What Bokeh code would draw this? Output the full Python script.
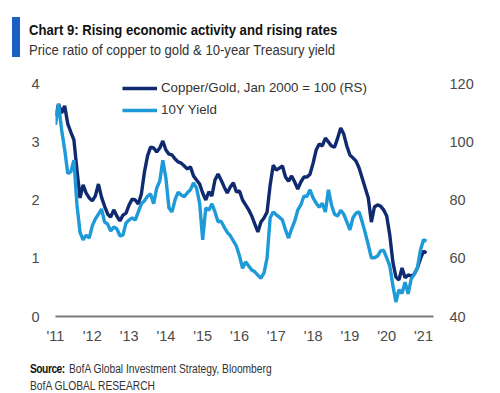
import pandas as pd
from bokeh.plotting import figure
from bokeh.layouts import column
from bokeh.models import (Range1d, LinearAxis, FixedTicker, Div,
                          Legend, LegendItem, ColumnDataSource)
from bokeh.embed import file_html
from bokeh.resources import INLINE

# ---- data (monthly, Jan 2011 .. Feb 2021) ----
START = "2011-01-01"
YIELD_10Y = [3.30, 3.66, 3.21, 2.87, 2.46, 2.49, 2.69, 1.92, 1.45, 1.32,
             1.40, 1.35, 1.56, 1.68, 1.76, 1.85, 1.63, 1.59, 1.47, 1.54,
             1.51, 1.39, 1.40, 1.61, 1.66, 1.70, 1.66, 1.80, 1.94, 1.99,
             2.07, 2.11, 1.94, 2.21, 2.33, 2.69, 2.38, 1.87, 1.80, 2.01,
             2.14, 2.09, 2.06, 2.13, 2.18, 2.30, 2.21, 1.95, 1.32, 1.87,
             1.83, 1.94, 1.80, 1.63, 1.64, 1.54, 1.45, 1.39, 1.30, 1.21,
             1.04, 0.83, 0.94, 0.87, 0.80, 0.77, 0.71, 0.66, 0.75, 1.01,
             1.70, 1.80, 1.75, 1.71, 1.66, 1.49, 1.35, 1.51, 1.64, 1.83,
             1.92, 2.07, 2.07, 2.18, 2.04, 1.95, 1.88, 1.95, 1.80, 2.18,
             1.92, 1.76, 1.73, 1.83, 1.76, 1.63, 1.49, 1.70, 1.78, 1.80,
             1.63, 1.44, 1.23, 1.01, 1.01, 1.04, 1.13, 1.14, 1.01, 0.87,
             0.54, 0.25, 0.46, 0.40, 0.59, 0.39, 0.65, 0.73, 0.83, 1.14,
             1.32, 1.30]
COPPER_GOLD = [109.0, 113.1, 110.0, 112.5, 106.3, 103.5, 100.8, 90.4, 80.8, 85.3,
               82.5, 80.8, 79.8, 81.5, 85.6, 81.1, 78.0, 75.3, 74.2, 76.7,
               74.6, 72.9, 74.9, 75.6, 78.4, 80.4, 80.1, 78.7, 82.2, 89.7,
               95.2, 98.3, 98.0, 96.6, 98.0, 100.4, 97.3, 95.9, 95.6, 94.2,
               93.2, 92.8, 91.8, 90.8, 91.5, 88.4, 87.0, 85.6, 82.5, 80.1,
               82.9, 81.5, 87.0, 89.0, 87.0, 84.6, 82.5, 84.6, 86.0, 82.9,
               83.2, 80.1, 78.4, 76.7, 74.6, 71.8, 69.1, 72.5, 73.9, 76.0,
               85.3, 92.1, 90.4, 91.1, 91.8, 88.0, 86.6, 88.4, 86.3, 83.9,
               86.3, 88.0, 88.0, 89.0, 92.8, 97.3, 99.4, 98.7, 101.4, 100.1,
               98.7, 98.3, 101.4, 104.9, 102.8, 98.7, 95.6, 94.6, 93.5, 91.1,
               87.7, 84.2, 80.8, 72.5, 77.7, 78.4, 78.0, 76.7, 74.6, 68.1,
               58.8, 53.6, 52.6, 56.7, 53.3, 54.3, 53.9, 54.6, 56.7, 59.8,
               62.5, 61.9]
YEAR_TICKS = [2011, 2012, 2013, 2014, 2015, 2016, 2017, 2018, 2019, 2020, 2021]
YEAR_LABELS = ["'11", "'12", "'13", "'14", "'15", "'16", "'17", "'18", "'19", "'20", "'21"]
LEFT_TICKS = [0, 1, 2, 3, 4]
RIGHT_TICKS = [40, 60, 80, 100, 120]

TITLE = "Chart 9: Rising economic activity and rising rates"
SUBTITLE = "Price ratio of copper to gold &amp; 10-year Treasury yield"
SOURCE = "BofA Global Investment Strategy, Bloomberg"
BRAND = "BofA GLOBAL RESEARCH"

dates = pd.date_range(START, periods=len(YIELD_10Y), freq="MS")
xs = [d.year + (d.month - 1) / 12.0 for d in dates]

FONT = "Liberation Sans"
DARK = "#0f2a6e"
LIGHT = "#1e9ad8"
GREY = "#4a4a4a"

# ---- header ----
HDR = ("position:absolute;left:29px;white-space:nowrap;line-height:1;"
       "transform:scaleX(0.846);transform-origin:0 0;font-size:15.5px;")
header = Div(width=500, height=64, margin=(0, 0, 0, 0), text=(
    "<div style=\"position:relative;width:500px;height:64px;font-family:'Liberation Sans',Arial,sans-serif;\">"
    "<div style='position:absolute;left:12px;top:17px;width:8px;height:40px;background:#1a5fc4'></div>"
    f"<div style='{HDR}top:22px;font-weight:bold;color:#111'>{TITLE}</div>"
    f"<div style='{HDR}top:41.5px;color:#333'>{SUBTITLE}</div>"
    "</div>"))

# ---- chart ----
FRAME_H = 240
left_end = FRAME_H / 58.1
p = figure(width=500, height=290, output_backend="svg", toolbar_location=None,
           x_range=Range1d(2011, 2011 + 378 / 36.8),
           y_range=Range1d(0, left_end),
           min_border_left=55, min_border_right=67, min_border_top=12, min_border_bottom=38)
p.extra_y_ranges = {"rs": Range1d(40, 40 + 20 * left_end)}
p.outline_line_color = None
p.xgrid.visible = False
p.ygrid.visible = False

src = ColumnDataSource(dict(x=xs, y10=YIELD_10Y, cg=COPPER_GOLD))
r_cg = p.line("x", "cg", source=src, y_range_name="rs", color=DARK, line_width=3.4)
r_y = p.line("x", "y10", source=src, color=LIGHT, line_width=3.4)


def style_axis(ax, standoff):
    ax.major_tick_line_color = None
    ax.minor_tick_line_color = None
    ax.major_tick_out = 0
    ax.major_tick_in = 0
    ax.minor_tick_out = 0
    ax.minor_tick_in = 0
    ax.major_label_standoff = standoff
    ax.major_label_text_font = FONT
    ax.major_label_text_font_size = "14.5px"
    ax.major_label_text_color = GREY


xa = p.xaxis[0]
xa.ticker = FixedTicker(ticks=YEAR_TICKS)
xa.major_label_overrides = {t: l for t, l in zip(YEAR_TICKS, YEAR_LABELS)}
xa.axis_line_color = "#7a7a7a"
xa.axis_line_width = 2
style_axis(xa, 11)

ya = p.yaxis[0]
ya.ticker = FixedTicker(ticks=LEFT_TICKS)
ya.axis_line_color = None
style_axis(ya, 16)

ra = LinearAxis(y_range_name="rs", ticker=FixedTicker(ticks=RIGHT_TICKS))
ra.axis_line_color = None
style_axis(ra, 16)
p.add_layout(ra, "right")

legend = Legend(items=[LegendItem(label="Copper/Gold, Jan 2000 = 100 (RS)", renderers=[r_cg]),
                       LegendItem(label="10Y Yield", renderers=[r_y])],
                location=(67, 196.5), orientation="vertical",
                background_fill_alpha=0, border_line_alpha=0,
                glyph_width=35, glyph_height=20, label_height=20, spacing=2,
                padding=0, margin=0, label_standoff=4,
                label_text_font=FONT, label_text_font_size="13.3px",
                label_text_color="#333333")
p.add_layout(legend)

# ---- footer ----
FTR = ("position:absolute;white-space:nowrap;line-height:1;font-size:12.5px;"
       "transform:scaleX(0.82);transform-origin:0 0;")
footer = Div(width=500, height=39, margin=(0, 0, 0, 0), text=(
    "<div style=\"position:relative;width:500px;height:39px;font-family:'Liberation Sans',Arial,sans-serif;color:#333\">"
    f"<div style='{FTR}left:30px;top:8.5px;font-weight:bold;color:#111;letter-spacing:-0.6px'>Source:</div>"
    f"<div style='{FTR}left:69px;top:8.5px'>{SOURCE}</div>"
    f"<div style='{FTR}left:30px;top:25.5px'>{BRAND}</div>"
    "</div>"))

layout = column(header, p, footer, spacing=0)
open("out.html", "w").write(file_html(layout, INLINE))
